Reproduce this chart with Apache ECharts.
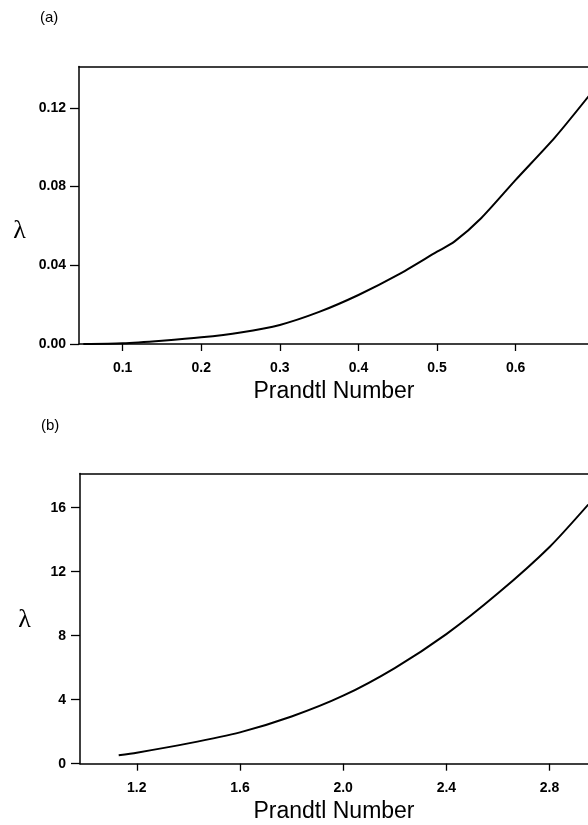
<!DOCTYPE html>
<html>
<head>
<meta charset="utf-8">
<script src="https://cdn.jsdelivr.net/npm/echarts@6/dist/echarts.min.js"></script>
<style>
html,body{margin:0;padding:0;background:#fff;}
#chart{width:588px;height:825px;}
</style>
</head>
<body>
<div id="chart"></div>
<script>
// Panel (a)
const aPrandtl = [0.05, 0.1, 0.15, 0.2, 0.25, 0.3, 0.35, 0.4, 0.45, 0.5, 0.522, 0.556, 0.6, 0.65, 0.695];
const aLambda  = [0.0, 0.0004, 0.0017, 0.0034, 0.0059, 0.0097, 0.0163, 0.0249, 0.0351, 0.0469, 0.052, 0.0639, 0.0834, 0.105, 0.127];
const aXTicks = [0.1, 0.2, 0.3, 0.4, 0.5, 0.6];
const aYTicks = [0.00, 0.04, 0.08, 0.12];

// Panel (b)
const bPrandtl = [1.13, 1.2, 1.4, 1.6, 1.8, 2.0, 2.2, 2.4, 2.6, 2.8, 2.95];
const bLambda  = [0.53, 0.69, 1.27, 1.96, 2.95, 4.25, 5.98, 8.1, 10.65, 13.55, 16.2];
const bXTicks = [1.2, 1.6, 2.0, 2.4, 2.8];
const bYTicks = [0, 4, 8, 12, 16];

const FONT = '"Liberation Sans", Arial, Helvetica, sans-serif';
const tickLabel = {color:'#000', fontFamily:FONT, fontSize:14, fontWeight:'bold'};
const lineSt = {color:'#000', width:1.5};

function xAxisCfg(gi, min, max, ticks, dec) {
  return {
    type:'value', gridIndex:gi, min:min, max:max, position:'bottom',
    axisLine:{show:true, onZero:false, lineStyle:lineSt},
    axisTick:{show:true, length:7, lineStyle:{color:'#000', width:1.3}, customValues:ticks},
    axisLabel:Object.assign({margin:17, customValues:ticks, formatter:v=>v.toFixed(dec)}, tickLabel),
    splitLine:{show:false}
  };
}
function topAxisCfg(gi, min, max) {
  return {
    type:'value', gridIndex:gi, min:min, max:max, position:'top',
    axisLine:{show:true, onZero:false, lineStyle:lineSt},
    axisTick:{show:false}, axisLabel:{show:false}, splitLine:{show:false}
  };
}
function yAxisCfg(gi, min, max, ticks, dec, margin) {
  return {
    type:'value', gridIndex:gi, min:min, max:max,
    axisLine:{show:true, onZero:false, lineStyle:lineSt},
    axisTick:{show:true, length:9, lineStyle:{color:'#000', width:1.3}, customValues:ticks},
    axisLabel:Object.assign({margin:margin, customValues:ticks, formatter:v=>v.toFixed(dec)}, tickLabel),
    splitLine:{show:false}
  };
}

const aXMin = 0.0445, aXMax = 0.692;
const bXMin = 0.98, bXMax = 2.949;

const chart = echarts.init(document.getElementById('chart'), null, {renderer:'canvas'});
chart.setOption({
  animation:false,
  backgroundColor:'#fff',
  grid:[
    {left:79, top:66.5, right:0, height:277.5, containLabel:false},
    {left:80, top:473.5, right:0, height:290.2, containLabel:false}
  ],
  xAxis:[
    xAxisCfg(0, aXMin, aXMax, aXTicks, 1),
    xAxisCfg(1, bXMin, bXMax, bXTicks, 1),
    topAxisCfg(0, aXMin, aXMax),
    topAxisCfg(1, bXMin, bXMax)
  ],
  yAxis:[
    yAxisCfg(0, 0, 0.141, aYTicks, 2, 13),
    yAxisCfg(1, 0, 18.14, bYTicks, 0, 14)
  ],
  series:[
    {type:'line', xAxisIndex:0, yAxisIndex:0, data:aPrandtl.map((x,i)=>[x,aLambda[i]]),
     showSymbol:false, smooth:0.25, lineStyle:{color:'#000', width:2}, clip:true},
    {type:'line', xAxisIndex:1, yAxisIndex:1, data:bPrandtl.map((x,i)=>[x,bLambda[i]]),
     showSymbol:false, smooth:0.25, lineStyle:{color:'#000', width:2}, clip:true}
  ],
  graphic:[
    {type:'text', left:40, top:10, style:{text:'(a)', font:'15px '+FONT, fill:'#000'}},
    {type:'text', left:41, top:418, style:{text:'(b)', font:'15px '+FONT, fill:'#000'}},
    {type:'text', x:19.5, y:231, style:{text:'λ', font:'26px "Liberation Serif", "DejaVu Serif", serif', fill:'#000', align:'center', verticalAlign:'middle'}},
    {type:'text', x:24.5, y:620, style:{text:'λ', font:'26px "Liberation Serif", "DejaVu Serif", serif', fill:'#000', align:'center', verticalAlign:'middle'}},
    {type:'text', x:334, y:392, style:{text:'Prandtl Number', font:'23px '+FONT, fill:'#000', align:'center', verticalAlign:'middle'}},
    {type:'text', x:334, y:811.5, style:{text:'Prandtl Number', font:'23px '+FONT, fill:'#000', align:'center', verticalAlign:'middle'}}
  ]
});
</script>
</body>
</html>
